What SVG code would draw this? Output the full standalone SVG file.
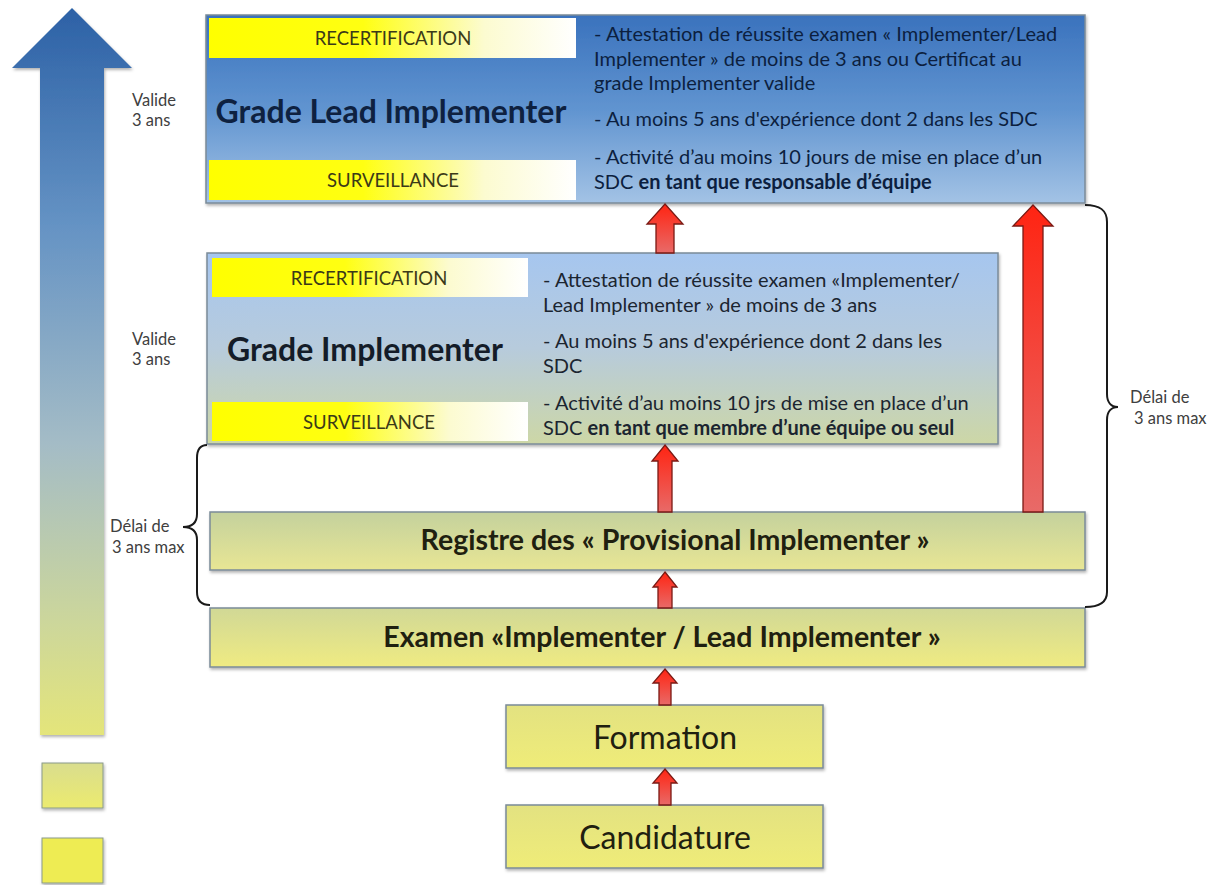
<svg xmlns="http://www.w3.org/2000/svg" width="1219" height="885" viewBox="0 0 1219 885">
  <defs>
    <style>
      .lbl { font-family: Lato, "Liberation Sans", sans-serif; font-size: 16.5px; fill: #404040; }
      .req { font-family: Lato, "Liberation Sans", sans-serif; font-size: 20px; }
      .req-top { fill: #0c1f3f; }
      .req-mid { fill: #1b2530; }
      .bar-txt { font-family: Lato, "Liberation Sans", sans-serif; font-size: 18.5px; fill: #3b3a18; text-anchor: middle; }
      .title { font-family: Lato, "Liberation Sans", sans-serif; font-weight: bold; font-size: 32px; text-anchor: middle; }
      .step-b { font-family: Lato, "Liberation Sans", sans-serif; font-weight: bold; font-size: 28.5px; fill: #1f2010; text-anchor: middle; }
      .step { font-family: Lato, "Liberation Sans", sans-serif; font-size: 32px; fill: #1f2010; text-anchor: middle; }
      .box { stroke: #7b8b98; stroke-width: 1.5; filter: url(#shadow); }
      .bar { fill: url(#barGrad); }
      .red { fill: url(#redGrad); stroke: #7a1a14; stroke-width: 1.3; }
      .brace { fill: none; stroke: #1a1a1a; stroke-width: 2; }
      .b { font-weight: bold; }
    </style>
    <filter id="shadow" x="-5%" y="-10%" width="110%" height="130%">
      <feDropShadow dx="1" dy="2" stdDeviation="1.5" flood-color="#000" flood-opacity="0.3"/>
    </filter>
    <linearGradient id="blueArrowGrad" gradientUnits="userSpaceOnUse" x1="0" y1="8" x2="0" y2="735">
      <stop offset="0" stop-color="#2c61a6"/>
      <stop offset="0.3" stop-color="#6593c4"/>
      <stop offset="0.6" stop-color="#a4bcc6"/>
      <stop offset="0.85" stop-color="#cdd79a"/>
      <stop offset="1" stop-color="#e4e57a"/>
    </linearGradient>
    <linearGradient id="topGrad" x1="0" y1="0" x2="0" y2="1">
      <stop offset="0" stop-color="#3a72bd"/>
      <stop offset="0.5" stop-color="#6094d0"/>
      <stop offset="1" stop-color="#a3c3e5"/>
    </linearGradient>
    <linearGradient id="midGrad" x1="0" y1="0" x2="0" y2="1">
      <stop offset="0" stop-color="#a6c6ef"/>
      <stop offset="0.5" stop-color="#b7cbdc"/>
      <stop offset="1" stop-color="#cdd7a6"/>
    </linearGradient>
    <linearGradient id="regGrad" x1="0" y1="0" x2="0" y2="1">
      <stop offset="0" stop-color="#c4d19d"/>
      <stop offset="1" stop-color="#e8e694"/>
    </linearGradient>
    <linearGradient id="examGrad" x1="0" y1="0" x2="0" y2="1">
      <stop offset="0" stop-color="#d1d896"/>
      <stop offset="1" stop-color="#efeb82"/>
    </linearGradient>
    <linearGradient id="yelGrad" x1="0" y1="0" x2="0" y2="1">
      <stop offset="0" stop-color="#e3e281"/>
      <stop offset="1" stop-color="#efec78"/>
    </linearGradient>
    <linearGradient id="sq1Grad" x1="0" y1="0" x2="0" y2="1">
      <stop offset="0" stop-color="#d9dd8e"/>
      <stop offset="1" stop-color="#eceb6e"/>
    </linearGradient>
    <linearGradient id="barGrad" x1="0" y1="0" x2="1" y2="0">
      <stop offset="0" stop-color="#ffff00"/>
      <stop offset="0.42" stop-color="#ffff12"/>
      <stop offset="0.75" stop-color="#fcfbd0"/>
      <stop offset="1" stop-color="#ffffff"/>
    </linearGradient>
    <linearGradient id="redGrad" x1="0" y1="0" x2="0" y2="1">
      <stop offset="0" stop-color="#ff2412"/>
      <stop offset="1" stop-color="#e86a68"/>
    </linearGradient>
  </defs>

  <rect width="1219" height="885" fill="#ffffff"/>

  <!-- progression arrow on the left -->
  <g id="progression">
    <polygon points="72,8 132,68 104,68 104,735 40,735 40,68 12,68" fill="url(#blueArrowGrad)" filter="url(#shadow)"/>
    <rect x="42" y="763" width="61" height="45" fill="url(#sq1Grad)" stroke="#8a9a8a" stroke-width="1" filter="url(#shadow)"/>
    <rect x="42" y="838" width="61" height="45" fill="#eeec52" stroke="#8a9a8a" stroke-width="1" filter="url(#shadow)"/>
  </g>

  <!-- Grade Lead Implementer -->
  <g id="grade-lead">
    <rect class="box" x="206" y="15" width="879" height="188" fill="url(#topGrad)"/>
    <rect class="bar" x="209" y="18" width="367" height="40"/>
    <text class="bar-txt" x="393" y="45">RECERTIFICATION</text>
    <rect class="bar" x="209" y="160" width="367" height="40"/>
    <text class="bar-txt" x="393" y="187">SURVEILLANCE</text>
    <text class="title" x="391" y="123" fill="#0e2140">Grade Lead Implementer</text>
    <text class="req req-top" x="594" y="41">- Attestation de réussite examen « Implementer/Lead</text>
    <text class="req req-top" x="594" y="66">Implementer » de moins de 3 ans ou Certificat au</text>
    <text class="req req-top" x="594" y="90">grade Implementer valide</text>
    <text class="req req-top" x="594" y="126">- Au moins 5 ans d'expérience dont 2 dans les SDC</text>
    <text class="req req-top" x="594" y="164">- Activité d’au moins 10 jours de mise en place d’un</text>
    <text class="req req-top" x="594" y="189">SDC <tspan class="b">en tant que responsable d’équipe</tspan></text>
    <text class="lbl" x="132" y="106">Valide</text>
    <text class="lbl" x="132" y="126">3 ans</text>
  </g>

  <!-- Grade Implementer -->
  <g id="grade-implementer">
    <rect class="box" x="207" y="253" width="791" height="191" fill="url(#midGrad)"/>
    <rect class="bar" x="212" y="258" width="316" height="39"/>
    <text class="bar-txt" x="369" y="285">RECERTIFICATION</text>
    <rect class="bar" x="212" y="402" width="316" height="39"/>
    <text class="bar-txt" x="369" y="429">SURVEILLANCE</text>
    <text class="title" x="365" y="361" fill="#141c28">Grade Implementer</text>
    <text class="req req-mid" x="543" y="287">- Attestation de réussite examen «Implementer/</text>
    <text class="req req-mid" x="543" y="312">Lead Implementer » de moins de 3 ans</text>
    <text class="req req-mid" x="543" y="348">- Au moins 5 ans d'expérience dont 2 dans les</text>
    <text class="req req-mid" x="543" y="373">SDC</text>
    <text class="req req-mid" x="543" y="410">- Activité d’au moins 10 jrs de mise en place d’un</text>
    <text class="req req-mid" x="543" y="435">SDC <tspan class="b">en tant que membre d’une équipe ou seul</tspan></text>
    <text class="lbl" x="132" y="345">Valide</text>
    <text class="lbl" x="132" y="365">3 ans</text>
  </g>

  <!-- Registre -->
  <g id="registre">
    <rect class="box" x="210" y="512" width="875" height="58" fill="url(#regGrad)"/>
    <text class="step-b" x="675" y="550">Registre des « Provisional Implementer »</text>
  </g>

  <!-- Examen -->
  <g id="examen">
    <rect class="box" x="210" y="608" width="875" height="59" fill="url(#examGrad)"/>
    <text class="step-b" x="662" y="647">Examen «Implementer / Lead Implementer »</text>
  </g>

  <!-- Formation -->
  <g id="formation">
    <rect class="box" x="506" y="705" width="317" height="63" fill="url(#yelGrad)"/>
    <text class="step" x="665" y="749">Formation</text>
  </g>

  <!-- Candidature -->
  <g id="candidature">
    <rect class="box" x="506" y="805" width="317" height="63" fill="url(#yelGrad)"/>
    <text class="step" x="665" y="849">Candidature</text>
  </g>

  <!-- time-limit braces -->
  <g id="braces">
    <path class="brace" d="M207,445 C201,445 197,449 197,458 L197,514 C197,523 192,527 183,527 C192,527 197,531 197,540 L197,592 C197,601 201,605 210,605"/>
    <text class="lbl" x="110" y="532">Délai de</text>
    <text class="lbl" x="112" y="553">3 ans max</text>
    <path class="brace" d="M1085,205 C1100,205 1107,210 1107,222 L1107,394 C1107,402 1111,407 1118,407 C1111,407 1107,412 1107,420 L1107,592 C1107,602 1100,607 1085,607"/>
    <text class="lbl" x="1130" y="403">Délai de</text>
    <text class="lbl" x="1134" y="424">3 ans max</text>
  </g>

  <!-- connectors -->
  <g id="connectors">
    <polygon class="red" points="665,204 683,224 674,224 674,253 656,253 656,224 647,224"/>
    <polygon class="red" points="665,445 678,461 672,461 672,512 658,512 658,461 652,461"/>
    <polygon class="red" points="665,572 677,587 672,587 672,608 658,608 658,587 653,587"/>
    <polygon class="red" points="665,669 677,683 671,683 671,705 659,705 659,683 653,683"/>
    <polygon class="red" points="665,769 677,783 671,783 671,805 659,805 659,783 653,783"/>
    <polygon class="red" points="1033,205 1053,226 1043,226 1043,512 1023,512 1023,226 1013,226"/>
  </g>
</svg>
